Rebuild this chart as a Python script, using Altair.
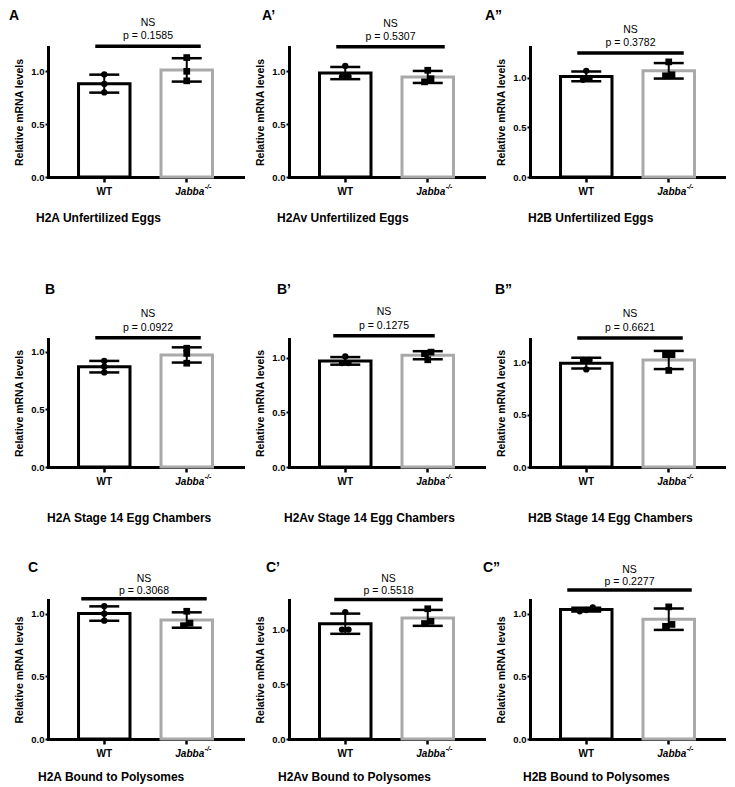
import altair as alt
import pandas as pd

# ---------------- data ----------------
GROUPS = ["WT", "Jabba"]
LETTERS = ["A", "A’", "A”", "B", "B’", "B”", "C", "C’", "C”"]
CAPTIONS = [
    "H2A Unfertilized Eggs", "H2Av Unfertilized Eggs", "H2B Unfertilized Eggs",
    "H2A Stage 14 Egg Chambers", "H2Av Stage 14 Egg Chambers", "H2B Stage 14 Egg Chambers",
    "H2A Bound to Polysomes", "H2Av Bound to Polysomes", "H2B Bound to Polysomes",
]
SIG_LABEL = "NS"
P_VALUES = ["0.1585", "0.5307", "0.3782", "0.0922", "0.1275", "0.6621", "0.3068", "0.5518", "0.2277"]
WT_POINTS = [
    [0.97, 0.88, 0.80], [1.05, 0.95, 0.95], [1.07, 0.99, 0.98],
    [0.92, 0.87, 0.82], [1.01, 0.95, 0.95], [1.02, 1.02, 0.93],
    [1.06, 1.00, 0.945], [1.16, 1.00, 1.00], [1.05, 1.03, 1.02],
]
JABBA_POINTS = [
    [1.13, 1.00, 0.91], [1.01, 0.90, 0.93], [1.16, 1.02, 1.03],
    [1.03, 0.985, 0.90], [1.05, 1.035, 0.98], [1.07, 1.07, 0.92],
    [1.02, 0.905, 0.925], [1.19, 1.055, 1.075], [1.055, 0.90, 0.915],
]
Y_MAX = [1.23, 1.23, 1.31, 1.11, 1.17, 1.22, 1.11, 1.27, 1.11]
SIG_Y = [1.236, 1.233, 1.25, 1.12, 1.20, 1.23, 1.12, 1.275, 1.19]
Y_TICKS = [0.0, 0.5, 1.0]
Y_TITLE = "Relative mRNA levels"

# ---------------- style ----------------
FONT = "Liberation Sans"
W = 195
ROW_H = [130, 128, 139]
COL_SPACING = 46
PAD_IN, PAD_OUT = 0.376, 0.37
JABBA_COLORS = ["#a9a9a9"] * 7 + ["#8d8d8d", "#a9a9a9"]
SHAPES = {"WT": ("circle", 40), "Jabba": ("square", 45)}
SIG_OFF = [(-9, 14), (-9, 17), (-9, 15), (-9, 14), (-12, 7), (-9, 14), (-23, 20), (-11, 15), (-19, 23)]
LETTER_DX = [-39, -27, -45, -3, -12, -35, -20, -23, -47]
LETTER_DY = [-31, -49.5, -32]
CAP_DX = [-12, -12, -2, -1, -5, -2, -10, -11, -7]
CAP_DY = [41, 51, 38]
TXT_DY = [(-23, -10), (-23.5, -10), (-20, -8)]


def swarm(vals, ppu, thr=5.0, gap=6.5):
    order = sorted(range(len(vals)), key=lambda k: vals[k])
    offs = [0.0] * len(vals)
    clusters = [[order[0]]]
    for a, b in zip(order, order[1:]):
        if (vals[b] - vals[a]) * ppu < thr:
            clusters[-1].append(b)
        else:
            clusters.append([b])
    for cl in clusters:
        n = len(cl)
        for j, k in enumerate(cl):
            offs[k] = (j - (n - 1) / 2) * gap
    return offs


def panel(i):
    r = i // 3
    H = ROW_H[r]
    ymax = Y_MAX[i]
    ppu = H / ymax

    rows = []
    for g, vals in zip(GROUPS, [WT_POINTS[i], JABBA_POINTS[i]]):
        for v, o in zip(vals, swarm(vals, ppu)):
            rows.append({"g": g, "v": v, "off": o})
    df = pd.DataFrame(rows)

    xscale = alt.Scale(domain=GROUPS, paddingInner=PAD_IN, paddingOuter=PAD_OUT)
    yscale = alt.Scale(domain=[0, ymax], nice=False)
    xaxis = alt.Axis(labels=False, title=None, domainColor="black", domainWidth=3,
                     domainCap="square", tickColor="black", tickWidth=2.5, tickSize=5, grid=False)
    yaxis = alt.Axis(values=Y_TICKS, format=".1f", title=Y_TITLE, titleFontSize=10.5,
                     titleFontWeight="bold", titleColor="black", titlePadding=6,
                     labelFontSize=9.5, labelFontWeight="bold", labelColor="black",
                     labelPadding=1, tickSize=3, tickWidth=2, tickColor="black",
                     domainColor="black", domainWidth=3, domainCap="square", grid=False)
    X = alt.X("g:N", scale=xscale, title=None)
    base = alt.Chart(df)
    agg = base.transform_aggregate(
        m="mean(v)", sd="stdev(v)", groupby=["g"]
    ).transform_calculate(lo="datum.m - datum.sd", hi="datum.m + datum.sd")

    layers = []
    layers.append(agg.mark_bar(fill="white", strokeWidth=3).encode(
        x=alt.X("g:N", scale=xscale, axis=xaxis, title=None),
        y=alt.Y("m:Q", scale=yscale, axis=yaxis, title=Y_TITLE),
        stroke=alt.Stroke("g:N", scale=alt.Scale(domain=GROUPS, range=["#000000", JABBA_COLORS[i]]), legend=None),
    ))
    layers.append(agg.mark_rule(color="black", strokeWidth=2).encode(
        x=X, y=alt.Y("lo:Q", title=Y_TITLE), y2="hi:Q"))
    for fld in ["lo", "hi"]:
        layers.append(agg.mark_tick(color="black", size=30, thickness=2.5, opacity=1).encode(
            x=X, y=alt.Y(f"{fld}:Q", title=Y_TITLE)))
    for (g, off) in sorted(set(zip(df["g"], df["off"]))):
        shape, size = SHAPES[g]
        layers.append(base.transform_filter(
            (alt.datum.g == g) & (alt.datum.off == float(off))
        ).mark_point(filled=True, opacity=1, color="black", shape=shape, size=size,
                     xOffset=float(off)).encode(x=X, y=alt.Y("v:Q", title=Y_TITLE)))

    o1, o2 = SIG_OFF[i]
    sig_df = pd.DataFrame({"g1": [GROUPS[0]], "g2": [GROUPS[1]], "y": [SIG_Y[i]],
                           "ns": [SIG_LABEL], "p": ["p = " + P_VALUES[i]]})
    layers.append(alt.Chart(sig_df).mark_rule(color="black", strokeWidth=3.5, xOffset=o1, x2Offset=o2).encode(
        x=alt.X("g1:N", title=None), x2="g2", y=alt.Y("y:Q", title=Y_TITLE)))
    cx = W / 2 + (o1 + o2) / 2
    d_ns, d_p = TXT_DY[r]
    for fld, d in [("ns", d_ns), ("p", d_p)]:
        layers.append(alt.Chart(sig_df).mark_text(fontSize=10.5, color="black", dy=d, baseline="middle").encode(
            x=alt.value(cx), y=alt.Y("y:Q", title=Y_TITLE), text=f"{fld}:N"))

    lab_df = pd.DataFrame({"g": GROUPS, "t": GROUPS, "sup": ["", "-/-"]})
    layers.append(alt.Chart(lab_df).transform_filter(alt.datum.g == "WT").mark_text(
        fontSize=10, fontWeight="bold", color="black", baseline="middle").encode(
        x=X, y=alt.value(H + 15), text="t:N"))
    layers.append(alt.Chart(lab_df).transform_filter(alt.datum.g == "Jabba").mark_text(
        fontSize=10, fontWeight="bold", fontStyle="italic", color="black", baseline="middle", dx=3).encode(
        x=X, y=alt.value(H + 15), text="t:N"))
    layers.append(alt.Chart(lab_df).transform_filter(alt.datum.g == "Jabba").mark_text(
        fontSize=7, fontWeight="bold", fontStyle="italic", color="black", baseline="middle", align="left",
        dx=18, dy=-5).encode(x=X, y=alt.value(H + 15), text="sup:N"))

    layers.append(alt.Chart(pd.DataFrame({"t": [LETTERS[i]]})).mark_text(
        fontSize=14, fontWeight="bold", color="black", align="left", baseline="middle").encode(
        x=alt.value(LETTER_DX[i]), y=alt.value(LETTER_DY[r]), text="t:N"))
    layers.append(alt.Chart(pd.DataFrame({"t": [CAPTIONS[i]]})).mark_text(
        fontSize=12, fontWeight="bold", color="black", align="left", baseline="middle").encode(
        x=alt.value(CAP_DX[i]), y=alt.value(H + CAP_DY[r]), text="t:N"))

    return alt.layer(*layers).properties(width=W, height=H)


rows = [alt.hconcat(*[panel(3 * r + c) for c in range(3)], spacing=COL_SPACING, bounds="flush")
        for r in range(3)]
chart = alt.vconcat(rows[0], alt.vconcat(rows[1], rows[2], spacing=35), spacing=57).properties(
    padding=0
).configure(font=FONT).configure_view(stroke="transparent")

chart.save("out.html", embed_options={"renderer": "svg", "actions": False})
